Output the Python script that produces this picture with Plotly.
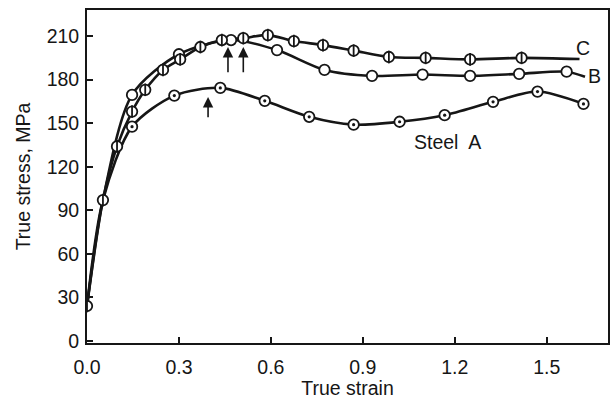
import plotly.graph_objects as go

# ---- data ----
strain_A = [0.0, 0.052, 0.147, 0.285, 0.435, 0.58, 0.725, 0.87, 1.02, 1.167, 1.325, 1.47, 1.62]
stress_A = [24, 97, 147.6, 169, 174.3, 165.4, 154.4, 149, 151, 155.5, 164.7, 171.8, 163.3]

strain_B = [0.0, 0.052, 0.147, 0.30, 0.47, 0.62, 0.775, 0.93, 1.095, 1.25, 1.41, 1.565, 1.625]
stress_B = [24, 97, 169.5, 197.5, 207.3, 200.4, 186.7, 182.6, 183.5, 182.6, 184, 185.5, 182]

strain_C = [0.0, 0.052, 0.098, 0.147, 0.19, 0.248, 0.304, 0.37, 0.44, 0.51, 0.59, 0.675,
            0.77, 0.87, 0.985, 1.105, 1.25, 1.418, 1.607]
stress_C = [24, 97, 134, 158, 173, 186.7, 194, 202.5, 207.3, 208.6, 210.7, 206.6,
            203.8, 200, 195.6, 195, 194, 195, 194.2]

# which points carry a symbol
marks_A = list(range(2, 13))
marks_B = list(range(2, 12))
marks_C = list(range(0, 18))

# peak-strain arrows: (strain, tail stress, tip stress)
arrow_strain = [0.395, 0.46, 0.51]
arrow_tail = [153, 184, 184]
arrow_tip = [168, 202.5, 202.5]

curve_labels = ["Steel  A", "B", "C"]
label_strain = [1.176, 1.655, 1.618]
label_stress = [137, 182.5, 202]

x_ticks = [0.0, 0.3, 0.6, 0.9, 1.2, 1.5]
x_ticklabels = ["0.0", "0.3", "0.6", "0.9", "1.2", "1.5"]
y_ticks = [0, 30, 60, 90, 120, 150, 180, 210]

INK = "#161616"
FONT = "Liberation Sans, Arial, sans-serif"
FS = 19.5

fig = go.Figure()

for xs, ys in [(strain_A, stress_A), (strain_B, stress_B), (strain_C, stress_C)]:
    fig.add_trace(go.Scatter(x=xs, y=ys, mode="lines",
                             line=dict(color=INK, width=2.6, shape="spline", smoothing=0.8),
                             hoverinfo="skip", showlegend=False))

def pick(vals, idx):
    return [vals[i] for i in idx]

circle = dict(symbol="circle", size=10.5, color="white", line=dict(color=INK, width=1.8))

# Steel A: circle with centre dot
xa, ya = pick(strain_A, marks_A), pick(stress_A, marks_A)
fig.add_trace(go.Scatter(x=xa, y=ya, mode="markers", marker=circle, showlegend=False))
fig.add_trace(go.Scatter(x=xa, y=ya, mode="markers",
                         marker=dict(symbol="circle", size=3.2, color=INK, line=dict(width=0)),
                         showlegend=False))
# Steel B: open circle
xb, yb = pick(strain_B, marks_B), pick(stress_B, marks_B)
fig.add_trace(go.Scatter(x=xb, y=yb, mode="markers", marker=circle, showlegend=False))
# Steel C: circle with vertical bar
xc, yc = pick(strain_C, marks_C), pick(stress_C, marks_C)
fig.add_trace(go.Scatter(x=xc, y=yc, mode="markers", marker=circle, showlegend=False))
fig.add_trace(go.Scatter(x=xc, y=yc, mode="markers",
                         marker=dict(symbol="line-ns", size=9, line=dict(color=INK, width=1.8)),
                         showlegend=False))

annotations = []
for sx, t0, t1 in zip(arrow_strain, arrow_tail, arrow_tip):
    annotations.append(dict(x=sx, y=t1, ax=sx, ay=t0, xref="x", yref="y", axref="x", ayref="y",
                            text="", showarrow=True, arrowhead=2, arrowsize=1.3,
                            arrowwidth=1.6, arrowcolor=INK))
for txt, lx, ly in zip(curve_labels, label_strain, label_stress):
    annotations.append(dict(x=lx, y=ly, xref="x", yref="y", text=txt, showarrow=False,
                            font=dict(family=FONT, size=FS, color=INK)))

axis_common = dict(showline=True, linecolor=INK, linewidth=1.8, mirror=True,
                   ticks="inside", ticklen=6, tickwidth=1.5, tickcolor=INK,
                   showgrid=False, zeroline=False, automargin=False,
                   tickfont=dict(family=FONT, size=FS, color=INK))

fig.update_layout(
    width=612, height=399,
    margin=dict(l=87, r=4, t=10, b=56),
    paper_bgcolor="white", plot_bgcolor="white",
    xaxis=dict(range=[0, 1.70], tickvals=x_ticks, ticktext=x_ticklabels,
               title=dict(text="True strain", font=dict(family=FONT, size=FS, color=INK), standoff=5),
               ticklabelstandoff=6, **axis_common),
    yaxis=dict(range=[-1.5, 228], tickvals=y_ticks,
               title=dict(text="True stress, MPa", font=dict(family=FONT, size=FS, color=INK), standoff=11),
               ticklabelstandoff=2, **axis_common),
    annotations=annotations,
)

fig.write_html("out.html", config={"displayModeBar": False},
               post_script="document.body.style.margin='0';document.body.style.overflow='hidden';")
